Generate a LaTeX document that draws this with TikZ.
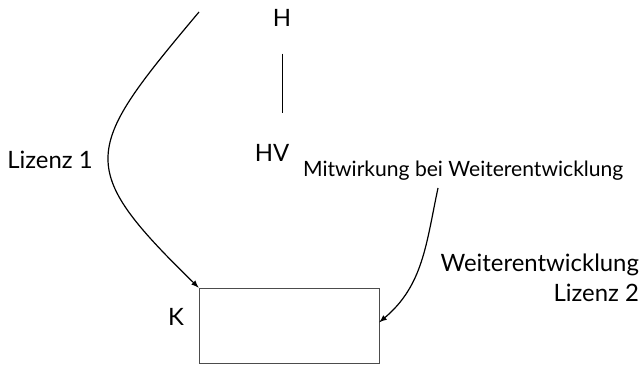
\documentclass[tikz,border=0pt]{standalone}
\usepackage{fontspec}
\setmainfont{Lato}
\newcommand{\bigtext}{\fontsize{17}{21}\selectfont}
\newcommand{\smalltext}{\fontsize{15}{18}\selectfont}
\tikzset{
  lbl/.style={font=\bigtext, inner sep=2pt},
  flow/.style={line width=0.85pt, -latex}
}

\begin{document}
\begin{tikzpicture}
    \useasboundingbox (0,0) rectangle (16.05,9.15);
    %parties
    \node[lbl] (h) at (7.05,8.7) {H};
    \node[lbl] (hv) at (6.8,5.325) {HV};
    \node[lbl] (k) at (4.4,1.225) {K};
    \node[draw=black!70, thin, minimum width=4.5cm, minimum height=1.875cm] (kbox) at (7.225,1.0125) {};
    \draw[thin] ([yshift=-0.6cm]h.south) -- ([yshift=0.7cm]h.south |- hv.north);
    %labels
    \node[lbl] (lic1) at (1.25,5.15) {Lizenz 1};
    \node[font=\smalltext] (mitw) at (11.58,4.88) {Mitwirkung bei Weiterentwicklung};
    \node[lbl, align=right, anchor=east] (weiter) at (16.05,2.2) {Weiterentwicklung\\Lizenz 2};
    %arrows
    \coordinate (src) at (4.975,8.85);
    \coordinate (mw) at (10.95,4.45);
    \draw[flow] (src) .. controls (2.08,5.4) and (1.85,5.0) .. (kbox.north west);
    \draw[flow] (mw) to[out=-102, in=40] ([yshift=0.08cm]kbox.east);
\end{tikzpicture}
\end{document}
